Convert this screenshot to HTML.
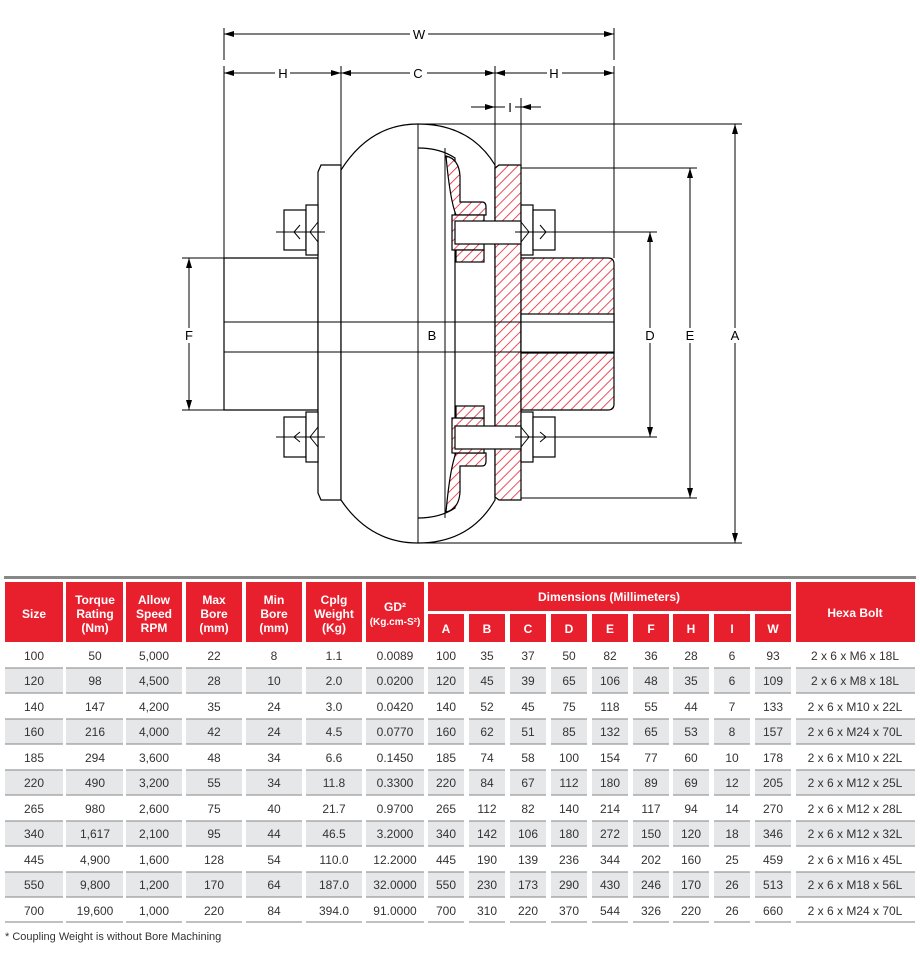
<!DOCTYPE html>
<html><head><meta charset="utf-8"><style>
html,body{margin:0;padding:0;background:#fff;}
svg{display:block;font-family:"Liberation Sans",Arial,sans-serif;}
</style></head><body>
<svg width="920" height="960" viewBox="0 0 920 960" xmlns="http://www.w3.org/2000/svg">
<defs>
<pattern id="h" patternUnits="userSpaceOnUse" width="7" height="7" patternTransform="rotate(45)">
<rect width="7" height="7" fill="#fff"/><line x1="0" y1="0" x2="0" y2="7" stroke="#e8202e" stroke-width="1.6"/>
</pattern>
<marker id="a" viewBox="0 0 10 6" refX="10" refY="3" markerWidth="10" markerHeight="6" orient="auto-start-reverse" markerUnits="userSpaceOnUse"><path d="M0,0 L10,3 L0,6z" fill="#000"/></marker>
</defs>
<g stroke="#000" stroke-width="1" fill="none">
<line x1="224" y1="28" x2="224" y2="60"/><line x1="614" y1="28" x2="614" y2="60"/>
<line x1="224" y1="66" x2="224" y2="258"/><line x1="341" y1="66" x2="341" y2="170"/>
<line x1="495" y1="66" x2="495" y2="165"/><line x1="614" y1="66" x2="614" y2="258"/>
<line x1="521" y1="98" x2="521" y2="165"/>
<line x1="224" y1="34" x2="410" y2="34" marker-start="url(#a)"/><line x1="428" y1="34" x2="614" y2="34" marker-end="url(#a)"/>
<line x1="224" y1="73" x2="275" y2="73" marker-start="url(#a)"/><line x1="290" y1="73" x2="341" y2="73" marker-end="url(#a)"/>
<line x1="341" y1="73" x2="410" y2="73" marker-start="url(#a)"/><line x1="427" y1="73" x2="495" y2="73" marker-end="url(#a)"/>
<line x1="495" y1="73" x2="547" y2="73" marker-start="url(#a)"/><line x1="562" y1="73" x2="614" y2="73" marker-end="url(#a)"/>
<line x1="471" y1="107" x2="495" y2="107" marker-end="url(#a)"/><line x1="495" y1="107" x2="505" y2="107"/>
<line x1="515" y1="107" x2="521" y2="107"/><line x1="541" y1="107" x2="521" y2="107" marker-end="url(#a)"/>
<line x1="418" y1="124" x2="742" y2="124"/><line x1="418" y1="543" x2="742" y2="543"/>
<line x1="735" y1="124" x2="735" y2="328" marker-start="url(#a)"/><line x1="735" y1="343" x2="735" y2="543" marker-end="url(#a)"/>
<line x1="520" y1="168" x2="697" y2="168"/><line x1="520" y1="498" x2="697" y2="498"/>
<line x1="690" y1="168" x2="690" y2="328" marker-start="url(#a)"/><line x1="690" y1="343" x2="690" y2="498" marker-end="url(#a)"/>
<line x1="560" y1="232" x2="657" y2="232"/><line x1="560" y1="437" x2="657" y2="437"/>
<line x1="650" y1="232" x2="650" y2="328" marker-start="url(#a)"/><line x1="650" y1="343" x2="650" y2="437" marker-end="url(#a)"/>
<line x1="182" y1="258" x2="224" y2="258"/><line x1="182" y1="410" x2="224" y2="410"/>
<line x1="189" y1="258" x2="189" y2="328" marker-start="url(#a)"/><line x1="189" y1="343" x2="189" y2="410" marker-end="url(#a)"/>
<line x1="424" y1="259" x2="445" y2="259"/><line x1="424" y1="408" x2="445" y2="408"/>
<line x1="432" y1="259" x2="432" y2="326" marker-start="url(#a)"/><line x1="432" y1="342" x2="432" y2="408" marker-end="url(#a)"/>
</g>
<g stroke="#000" stroke-width="1.2" fill="#fff">
<path d="M224,258 H318 V410 H224 Z"/>
<path d="M318,172 L321,165 H341 V500 H321 L318,493 Z"/>
<path d="M341,170 Q370,124 418,124 Q470,124 495,165 L495,500 Q470,543 418,543 Q370,543 341,500 Z"/>
<path d="M418,148 Q440,148 455,158 L455,508 Q440,518 418,518"/>
<path d="M495,168 L499,165 H521 V500 H499 L495,497 Z" fill="url(#h)"/>
<path d="M521,258 H608 Q614,258 614,264 V404 Q614,410 608,410 H521 Z" fill="url(#h)"/>
<rect x="521" y="314" width="93" height="39" fill="#fff"/>
<!-- inner flanges -->
<path d="M446,156 Q459,159 460,176 V202 H482 Q486,202 486,207 V215 H456 Q450,200 446,156 Z" fill="url(#h)"/>
<rect x="452" y="215" width="32" height="35" fill="url(#h)"/>
<rect x="456" y="250" width="28" height="12" fill="url(#h)"/>
<path d="M446,512 Q459,509 460,492 V466 H482 Q486,466 486,461 V453 H456 Q450,468 446,512 Z" fill="url(#h)"/>
<rect x="452" y="418" width="32" height="35" fill="url(#h)"/>
<rect x="456" y="406" width="28" height="12" fill="url(#h)"/>
<rect x="284" y="210" width="22" height="40"/><rect x="306" y="205" width="12" height="50"/>
<rect x="284" y="417" width="22" height="40"/><rect x="306" y="412" width="12" height="50"/>
<rect x="521" y="205" width="12" height="50"/><rect x="533" y="210" width="22" height="40"/>
<rect x="521" y="412" width="12" height="50"/><rect x="533" y="417" width="22" height="40"/>
<rect x="455" y="221" width="66" height="23"/><rect x="455" y="426" width="66" height="23"/>
</g>
<g stroke="#000" stroke-width="1" fill="none">
<line x1="418" y1="124" x2="418" y2="543"/><line x1="445" y1="148" x2="445" y2="518"/>
<line x1="224" y1="322" x2="614" y2="322"/><line x1="224" y1="352" x2="614" y2="352"/>
<line x1="276" y1="232" x2="325" y2="232"/><line x1="276" y1="437" x2="325" y2="437"/>
<line x1="515" y1="232" x2="562" y2="232"/><line x1="515" y1="437" x2="562" y2="437"/>
<path d="M300,225 L294,232 L300,239 M318,222 L310,232 L318,242 M300,432 L294,437 L300,442 M318,427 L310,437 L318,447"/>
<path d="M540,225 L546,232 L540,239 M521,222 L529,232 L521,242 M540,432 L546,437 L540,442 M521,427 L529,437 L521,447"/>
</g>
<g font-size="13" fill="#000" text-anchor="middle">
<text x="419" y="39">W</text>
<text x="283" y="78">H</text><text x="418" y="78">C</text><text x="554" y="78">H</text>
<text x="510" y="112">I</text>
<text x="189" y="340">F</text><text x="432" y="340">B</text><text x="650" y="340">D</text><text x="690" y="340">E</text><text x="735" y="340">A</text>
</g>

<rect x="4" y="576" width="912" height="3" fill="#888"/>
<g fill="#e8202e">
<rect x="5" y="582" width="58" height="60"/><rect x="66" y="582" width="57" height="60"/><rect x="126" y="582" width="56" height="60"/><rect x="186" y="582" width="56" height="60"/><rect x="246" y="582" width="56" height="60"/><rect x="306" y="582" width="56" height="60"/><rect x="366" y="582" width="58" height="60"/>
<rect x="428" y="582" width="363" height="29"/>
<rect x="428" y="614" width="36" height="28"/><rect x="469" y="614" width="36" height="28"/><rect x="510" y="614" width="36" height="28"/><rect x="551" y="614" width="36" height="28"/><rect x="592" y="614" width="36" height="28"/><rect x="633" y="614" width="36" height="28"/><rect x="673" y="614" width="36" height="28"/><rect x="714" y="614" width="36" height="28"/><rect x="755" y="614" width="36" height="28"/>
<rect x="796" y="582" width="119" height="60"/>
</g>
<g fill="#fff" font-size="12" font-weight="bold" text-anchor="middle">
<text x="34" y="618">Size</text>
<text x="95" y="604">Torque</text><text x="95" y="618">Rating</text><text x="95" y="632">(Nm)</text>
<text x="154" y="604">Allow</text><text x="154" y="618">Speed</text><text x="154" y="632">RPM</text>
<text x="214" y="604">Max</text><text x="214" y="618">Bore</text><text x="214" y="632">(mm)</text>
<text x="274" y="604">Min</text><text x="274" y="618">Bore</text><text x="274" y="632">(mm)</text>
<text x="334" y="604">Cplg</text><text x="334" y="618">Weight</text><text x="334" y="632">(Kg)</text>
<text x="395" y="611">GD²</text><text x="395" y="625" font-size="10">(Kg.cm-S²)</text>
<text x="609" y="601">Dimensions (Millimeters)</text>
<text x="855" y="617">Hexa Bolt</text>
<text x="446" y="633">A</text><text x="487" y="633">B</text><text x="528" y="633">C</text><text x="569" y="633">D</text><text x="610" y="633">E</text><text x="651" y="633">F</text><text x="691" y="633">H</text><text x="732" y="633">I</text><text x="773" y="633">W</text>
</g>
<g fill="#e6e7e8">
<rect x="5" y="668" width="910" height="25"/><rect x="5" y="719" width="910" height="25"/><rect x="5" y="770" width="910" height="25"/><rect x="5" y="821" width="910" height="25"/><rect x="5" y="872" width="910" height="25"/>
</g>
<g stroke="#9a9a9a" stroke-width="1.2">
<line x1="5" y1="668" x2="915" y2="668"/><line x1="5" y1="693" x2="915" y2="693"/><line x1="5" y1="719" x2="915" y2="719"/><line x1="5" y1="744" x2="915" y2="744"/><line x1="5" y1="770" x2="915" y2="770"/><line x1="5" y1="795" x2="915" y2="795"/><line x1="5" y1="821" x2="915" y2="821"/><line x1="5" y1="846" x2="915" y2="846"/><line x1="5" y1="872" x2="915" y2="872"/><line x1="5" y1="897" x2="915" y2="897"/><line x1="5" y1="922" x2="915" y2="922"/>
</g>
<g fill="#fff">
<rect x="63" y="660" width="3" height="264"/><rect x="123" y="660" width="3" height="264"/><rect x="182" y="660" width="4" height="264"/><rect x="242" y="660" width="4" height="264"/><rect x="302" y="660" width="4" height="264"/><rect x="362" y="660" width="4" height="264"/><rect x="424" y="660" width="4" height="264"/><rect x="464" y="660" width="5" height="264"/><rect x="505" y="660" width="5" height="264"/><rect x="546" y="660" width="5" height="264"/><rect x="587" y="660" width="5" height="264"/><rect x="628" y="660" width="5" height="264"/><rect x="669" y="660" width="4" height="264"/><rect x="709" y="660" width="5" height="264"/><rect x="750" y="660" width="5" height="264"/><rect x="791" y="660" width="5" height="264"/>
</g>
<g fill="#333" font-size="12" text-anchor="middle">
<g transform="translate(0,660)"><text x="34">100</text><text x="95">50</text><text x="154">5,000</text><text x="214">22</text><text x="274">8</text><text x="334">1.1</text><text x="395">0.0089</text><text x="446">100</text><text x="487">35</text><text x="528">37</text><text x="569">50</text><text x="610">82</text><text x="651">36</text><text x="691">28</text><text x="732">6</text><text x="773">93</text><text x="855">2 x 6 x M6 x 18L</text></g>
<g transform="translate(0,685)"><text x="34">120</text><text x="95">98</text><text x="154">4,500</text><text x="214">28</text><text x="274">10</text><text x="334">2.0</text><text x="395">0.0200</text><text x="446">120</text><text x="487">45</text><text x="528">39</text><text x="569">65</text><text x="610">106</text><text x="651">48</text><text x="691">35</text><text x="732">6</text><text x="773">109</text><text x="855">2 x 6 x M8 x 18L</text></g>
<g transform="translate(0,711)"><text x="34">140</text><text x="95">147</text><text x="154">4,200</text><text x="214">35</text><text x="274">24</text><text x="334">3.0</text><text x="395">0.0420</text><text x="446">140</text><text x="487">52</text><text x="528">45</text><text x="569">75</text><text x="610">118</text><text x="651">55</text><text x="691">44</text><text x="732">7</text><text x="773">133</text><text x="855">2 x 6 x M10 x 22L</text></g>
<g transform="translate(0,736)"><text x="34">160</text><text x="95">216</text><text x="154">4,000</text><text x="214">42</text><text x="274">24</text><text x="334">4.5</text><text x="395">0.0770</text><text x="446">160</text><text x="487">62</text><text x="528">51</text><text x="569">85</text><text x="610">132</text><text x="651">65</text><text x="691">53</text><text x="732">8</text><text x="773">157</text><text x="855">2 x 6 x M24 x 70L</text></g>
<g transform="translate(0,762)"><text x="34">185</text><text x="95">294</text><text x="154">3,600</text><text x="214">48</text><text x="274">34</text><text x="334">6.6</text><text x="395">0.1450</text><text x="446">185</text><text x="487">74</text><text x="528">58</text><text x="569">100</text><text x="610">154</text><text x="651">77</text><text x="691">60</text><text x="732">10</text><text x="773">178</text><text x="855">2 x 6 x M10 x 22L</text></g>
<g transform="translate(0,787)"><text x="34">220</text><text x="95">490</text><text x="154">3,200</text><text x="214">55</text><text x="274">34</text><text x="334">11.8</text><text x="395">0.3300</text><text x="446">220</text><text x="487">84</text><text x="528">67</text><text x="569">112</text><text x="610">180</text><text x="651">89</text><text x="691">69</text><text x="732">12</text><text x="773">205</text><text x="855">2 x 6 x M12 x 25L</text></g>
<g transform="translate(0,813)"><text x="34">265</text><text x="95">980</text><text x="154">2,600</text><text x="214">75</text><text x="274">40</text><text x="334">21.7</text><text x="395">0.9700</text><text x="446">265</text><text x="487">112</text><text x="528">82</text><text x="569">140</text><text x="610">214</text><text x="651">117</text><text x="691">94</text><text x="732">14</text><text x="773">270</text><text x="855">2 x 6 x M12 x 28L</text></g>
<g transform="translate(0,838)"><text x="34">340</text><text x="95">1,617</text><text x="154">2,100</text><text x="214">95</text><text x="274">44</text><text x="334">46.5</text><text x="395">3.2000</text><text x="446">340</text><text x="487">142</text><text x="528">106</text><text x="569">180</text><text x="610">272</text><text x="651">150</text><text x="691">120</text><text x="732">18</text><text x="773">346</text><text x="855">2 x 6 x M12 x 32L</text></g>
<g transform="translate(0,864)"><text x="34">445</text><text x="95">4,900</text><text x="154">1,600</text><text x="214">128</text><text x="274">54</text><text x="334">110.0</text><text x="395">12.2000</text><text x="446">445</text><text x="487">190</text><text x="528">139</text><text x="569">236</text><text x="610">344</text><text x="651">202</text><text x="691">160</text><text x="732">25</text><text x="773">459</text><text x="855">2 x 6 x M16 x 45L</text></g>
<g transform="translate(0,889)"><text x="34">550</text><text x="95">9,800</text><text x="154">1,200</text><text x="214">170</text><text x="274">64</text><text x="334">187.0</text><text x="395">32.0000</text><text x="446">550</text><text x="487">230</text><text x="528">173</text><text x="569">290</text><text x="610">430</text><text x="651">246</text><text x="691">170</text><text x="732">26</text><text x="773">513</text><text x="855">2 x 6 x M18 x 56L</text></g>
<g transform="translate(0,915)"><text x="34">700</text><text x="95">19,600</text><text x="154">1,000</text><text x="214">220</text><text x="274">84</text><text x="334">394.0</text><text x="395">91.0000</text><text x="446">700</text><text x="487">310</text><text x="528">220</text><text x="569">370</text><text x="610">544</text><text x="651">326</text><text x="691">220</text><text x="732">26</text><text x="773">660</text><text x="855">2 x 6 x M24 x 70L</text></g>
</g>
<text x="5" y="940" font-size="11" fill="#333">* Coupling Weight is without Bore Machining</text>
</svg>
</body></html>
